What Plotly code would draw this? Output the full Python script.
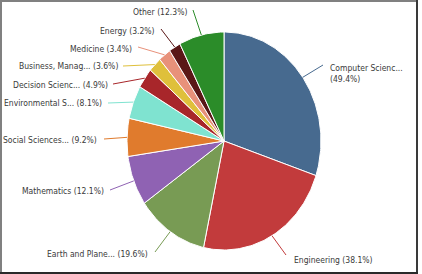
import numpy as np
import plotly.graph_objects as go

# ---- data ----
categories = ["Computer Scienc...", "Engineering", "Earth and Plane...", "Mathematics",
              "Social Sciences...", "Environmental S...", "Decision Scienc...",
              "Business, Manag...", "Medicine", "Energy", "Other"]
values = [49.4, 38.1, 19.6, 12.1, 9.2, 8.1, 4.9, 3.6, 3.4, 3.2, 12.3]
colors = ["#476a8f", "#c23b3c", "#789b54", "#8f62b3", "#e07b2d", "#7fe3d0",
          "#a8262a", "#dfc03b", "#e8917a", "#5a1717", "#2b8c29"]

# ---- layout settings (pixel space) ----
W, H = 422, 274
CX, CY, RX, RY = 224, 141, 97, 109
# label line outer end (x, y), text anchor side, text x, text y
label_layout = [
    (323, 65, "left", 328, 73),
    (286, 255, "left", 292, 260),
    (155, 252, "right", 150, 254),
    (110, 190, "right", 106, 191),
    (104, 139, "right", 99, 140),
    (108, 103, "right", 104, 103),
    (113, 84, "right", 110, 85),
    (123, 66, "right", 120, 66),
    (138, 47, "right", 134, 49),
    (161, 29, "right", 157, 31),
    (193, 10, "right", 189, 12),
]

fig = go.Figure()
total = sum(values)
start = 0.0
FONT = "DejaVu Sans Condensed, Roboto, sans-serif"
annotations = []
for i, (cat, v, col) in enumerate(zip(categories, values, colors)):
    a0 = start / total * 2 * np.pi
    a1 = (start + v) / total * 2 * np.pi
    start += v
    t = np.linspace(a0, a1, max(4, int((a1 - a0) * 60)))
    xs = np.concatenate([[CX], CX + RX * np.sin(t), [CX]])
    ys = np.concatenate([[CY], CY - RY * np.cos(t), [CY]])
    fig.add_trace(go.Scatter(x=xs, y=ys, mode="lines", fill="toself", fillcolor=col,
                             line=dict(color="white", width=1), hoverinfo="skip",
                             showlegend=False))
    am = (a0 + a1) / 2
    ex, ey = CX + RX * np.sin(am), CY - RY * np.cos(am)
    lx, ly, side, tx, ty = label_layout[i]
    fig.add_trace(go.Scatter(x=[ex, lx], y=[ey, ly], mode="lines",
                             line=dict(color=col, width=1), hoverinfo="skip",
                             showlegend=False))
    pct = f"({v}%)"
    text = f"{cat}<br>{pct}" if i == 0 else f"{cat} {pct}"
    annotations.append(dict(x=tx, y=ty, xref="x", yref="y", text=text, showarrow=False,
                            xanchor=side, yanchor="middle", align="left",
                            font=dict(family=FONT, size=8.5, color="#3a3a3a")))

shapes = [
    dict(type="line", xref="x", yref="y", x0=1, y0=0, x1=1, y1=274, line=dict(color="#808080", width=2)),
    dict(type="line", xref="x", yref="y", x0=0, y0=1, x1=418, y1=1, line=dict(color="#808080", width=2)),
    dict(type="line", xref="x", yref="y", x0=417, y0=0, x1=417, y1=274, line=dict(color="#3a3a3a", width=2)),
    dict(type="line", xref="x", yref="y", x0=0, y0=273, x1=418, y1=273, line=dict(color="#2a2a2a", width=2)),
]

fig.update_layout(
    width=W, height=H, margin=dict(l=0, r=0, t=0, b=0),
    paper_bgcolor="white", plot_bgcolor="white",
    xaxis=dict(range=[0, W], visible=False, fixedrange=True),
    yaxis=dict(range=[H, 0], visible=False, fixedrange=True),
    annotations=annotations, shapes=shapes,
)
fig.write_html("out.html")
